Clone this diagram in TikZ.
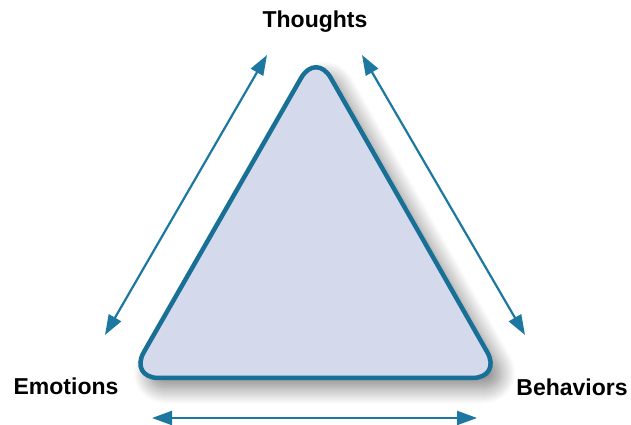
\documentclass[tikz,border=0pt]{standalone}
\usepackage{fontspec}
\setmainfont{Liberation Sans}
\usepackage{tikz}
\usetikzlibrary{arrows.meta, positioning, shadows.blur}
\definecolor{tealline}{RGB}{24,112,150}
\definecolor{tealarrow}{RGB}{28,120,160}
\definecolor{trifill}{RGB}{212,217,236}
\tikzstyle{link} = [tealarrow, line width=2.2pt, {Triangle[length=20pt,width=14pt]}-{Triangle[length=20pt,width=14pt]}]
\tikzstyle{label} = [font=\bfseries\fontsize{23}{27}\selectfont, anchor=base, inner sep=0pt]

\begin{document}
\begin{tikzpicture}[x=1pt, y=1pt]
    \useasboundingbox (0,0) rectangle (631,425);
    % triangle
    \coordinate (apex) at (316,373);
    \coordinate (lcorner) at (129,47);
    \coordinate (rcorner) at (502,47);
    \draw[tealline, line width=4.5pt, fill=trifill, rounded corners=30pt,
          blur shadow={shadow xshift=9pt, shadow yshift=-10pt, shadow blur radius=16pt,
                       shadow blur steps=24, shadow opacity=50}]
      (apex) -- (rcorner) -- (lcorner) -- cycle;
    % labels
    \node[label] (thoughts) at (315,397) {Thoughts};
    \node[label] (emotions) at (66,30) {Emotions};
    \node[label] (behaviors) at (572,29) {Behaviors};
    % arrow ends
    \coordinate (tl) at (267,370);
    \coordinate (el) at (105,90);
    \coordinate (tr) at (362,370);
    \coordinate (br) at (525,90);
    \coordinate (eb) at (152,7);
    \coordinate (bb) at (477,7);
    \draw[link] (tl) -- (el);
    \draw[link] (tr) -- (br);
    \draw[link] (eb) -- (bb);
\end{tikzpicture}
\end{document}
